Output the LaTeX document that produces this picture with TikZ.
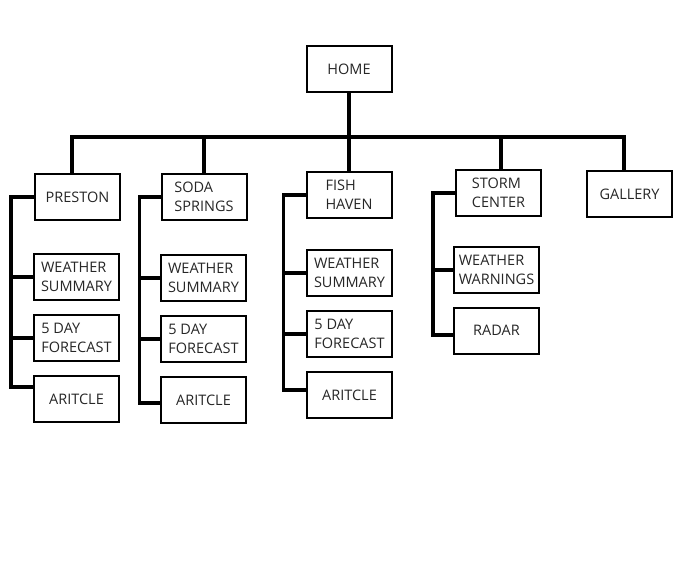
\documentclass[tikz,border=0pt]{standalone}
\usepackage{fontspec}
\setmainfont{Open Sans}
\usetikzlibrary{positioning}
\tikzset{
  page/.style={draw, line width=2pt, minimum width=85pt, minimum height=46pt,
               align=left, inner sep=2pt, text=black!85,
               font=\fontsize{14.5}{19}\selectfont},
  link/.style={line width=3.2pt},
}

\begin{document}
\begin{tikzpicture}[x=1pt, y=-1pt]
  \useasboundingbox (0,0) rectangle (696,564);

  % ---------- top level ----------
  \node[page] (home) at (349, 69.5) {HOME};
  \coordinate (bus) at (349, 137);

  % ---------- main sections ----------
  \node[page] (preston) at (77.5, 197) {PRESTON};
  \node[page] (soda) at (204, 197) {SODA\\SPRINGS};
  \node[page] (fish) at (349, 195) {FISH\\HAVEN};
  \node[page] (storm) at (498.5, 193) {STORM\\CENTER};
  \node[page] (gallery) at (629.5, 194) {GALLERY};

  \draw[link] ([xshift=-5.5pt]preston.north) |- (bus) -| ([xshift=-5.5pt]gallery.north);
  \draw[link] (home.south) -- (fish.north);
  \draw[link] (soda.north) -- (soda.north |- bus);
  \draw[link] ([xshift=2.5pt]storm.north) -- ([xshift=2.5pt]storm.north |- bus);

  % ---------- preston pages ----------
  \node[page] (prestonws) at (76.5, 277) {WEATHER\\SUMMARY};
  \node[page] (prestonfc) at (76.5, 338) {5 DAY\\FORECAST};
  \node[page] (prestonart) at (76.5, 399) {ARITCLE};
  \draw[link] (preston.west) -- ++(-23,0) |- ([yshift=12pt]prestonart.west);
  \draw[link] (prestonws.west) -- ++(-22,0);
  \draw[link] (prestonfc.west) -- ++(-22,0);

  % ---------- soda springs pages ----------
  \node[page] (sodaws) at (203.5, 278) {WEATHER\\SUMMARY};
  \node[page] (sodafc) at (203.5, 339) {5 DAY\\FORECAST};
  \node[page] (sodaart) at (203.5, 400) {ARITCLE};
  \draw[link] (soda.west) -- ++(-21,0) |- ([yshift=-3pt]sodaart.west);
  \draw[link] (sodaws.west) -- ++(-20,0);
  \draw[link] (sodafc.west) -- ++(-20,0);

  % ---------- fish haven pages ----------
  \node[page] (fishws) at (349.5, 273) {WEATHER\\SUMMARY};
  \node[page] (fishfc) at (349.5, 334) {5 DAY\\FORECAST};
  \node[page] (fishart) at (349.5, 395) {ARITCLE};
  \draw[link] (fish.west) -- ++(-22,0) |- ([yshift=5pt]fishart.west);
  \draw[link] (fishws.west) -- ++(-21,0);
  \draw[link] (fishfc.west) -- ++(-21,0);

  % ---------- storm center pages ----------
  \node[page] (warn) at (496.5, 270) {WEATHER\\WARNINGS};
  \node[page] (radar) at (496.5, 330.5) {RADAR};
  \draw[link] (storm.west) -- ++(-22,0) |- ([yshift=-4.5pt]radar.west);
  \draw[link] (warn.west) -- ++(-20,0);

\end{tikzpicture}
\end{document}
